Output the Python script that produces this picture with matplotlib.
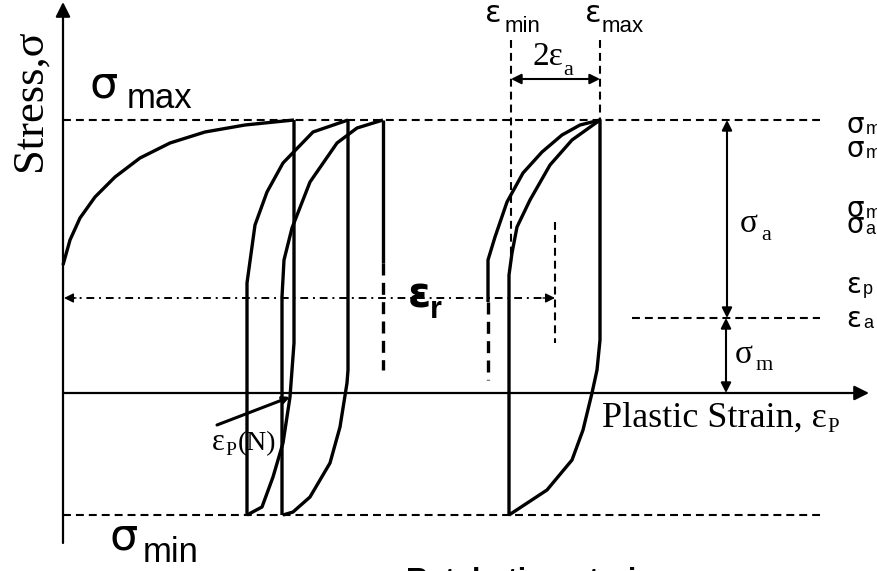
import matplotlib.pyplot as plt
import numpy as np

SANS = 'Liberation Sans'
SERIF = 'Liberation Serif'
GREEK = 'DejaVu Sans'

# stress levels
s_max = 273
s_min = -122
s_mean = 75

# strain positions
e_min = 448
e_max = 537
e_ratchet = 492

# initial loading curve
load_x = [0, 7, 17, 32, 52, 77, 107, 142, 182, 231]
load_y = [128, 153, 175, 196, 216, 235, 250, 261, 268, 273]

# cycle 1: unloading branch then reloading branch
c1_down_x = [231, 231, 227, 220, 210, 199, 184]
c1_down_y = [273, 50, -4, -50, -84, -114, -122]
c1_up_x = [184, 184, 192, 204, 220, 250, 285]
c1_up_y = [-122, 110, 168, 201, 230, 261, 273]

# cycle 2
c2_down_x = [285, 285, 284, 277, 267, 247, 230, 220]
c2_down_y = [273, 23, 10, -34, -70, -104, -119, -122]
c2_up_x = [219, 219, 221, 229, 247, 274, 294, 320]
c2_up_y = [-122, 96, 133, 165, 211, 250, 265, 273]
c2_end_x = [320, 320]
c2_end_y = [273, 130]
c2_gap_x = [320, 320]
c2_gap_y = [130, 23]

# cycle N (stabilised)
cn_in_x = [425, 425, 432, 444, 460, 479, 499, 517, 537]
cn_in_y = [91, 133, 156, 191, 220, 241, 258, 268, 273]
cn_in_gap_x = [425, 425]
cn_in_gap_y = [91, 13]
cn_loop_x = [446, 446, 449, 454, 467, 487, 509, 537, 537, 534, 529, 520, 509, 484, 446]
cn_loop_y = [-122, 118, 140, 166, 193, 228, 253, 273, 53, 23, 0, -37, -67, -97, -122]

fig = plt.figure(figsize=(8.77, 5.71), dpi=100)
ax = fig.add_axes([0, 0, 1, 1])
ax.set_xlim(-63, 814)
ax.set_ylim(-178, 393)
ax.axis('off')
renderer = fig.canvas.get_renderer()
inv = ax.transData.inverted()

curve = dict(color='black', lw=2.4, solid_joinstyle='round', solid_capstyle='butt')
dash = dict(color='black', lw=1.5, ls=(0, (3.8, 2.4)))
thick_dash = dict(color='black', lw=2.4, ls=(0, (3.6, 2.2)))

# axes with arrows
ax.annotate('', xy=(806, 0), xytext=(0, 0),
            arrowprops=dict(arrowstyle='-|>', color='black', lw=1.6, mutation_scale=22, shrinkA=0, shrinkB=0))
ax.annotate('', xy=(0, 391), xytext=(0, -150),
            arrowprops=dict(arrowstyle='-|>', color='black', lw=1.6, mutation_scale=22, shrinkA=0, shrinkB=0))

# reference dashed lines
ax.plot([0, 757], [s_max, s_max], **dash)
ax.plot([0, 757], [s_min, s_min], **dash)
ax.plot([569, 757], [s_mean, s_mean], **dash)
ax.plot([e_min, e_min], [353, 133], **dash)
ax.plot([e_max, e_max], [353, s_max], **dash)
ax.plot([e_ratchet, e_ratchet], [171, 50], **dash)

# hysteresis loops
ax.plot(load_x, load_y, **curve)
ax.plot(c1_down_x, c1_down_y, **curve)
ax.plot(c1_up_x, c1_up_y, **curve)
ax.plot(c2_down_x, c2_down_y, **curve)
ax.plot(c2_up_x, c2_up_y, **curve)
ax.plot(c2_end_x, c2_end_y, **curve)
ax.plot(c2_gap_x, c2_gap_y, **thick_dash)
ax.plot(cn_in_x, cn_in_y, **curve)
ax.plot(cn_in_gap_x, cn_in_gap_y, **thick_dash)
ax.plot(cn_loop_x, cn_loop_y, **curve)

# ratcheting strain arrow (dash-dot)
ax.plot([4, e_ratchet - 8], [95, 95], color='black', lw=1.4, ls=(0, (4, 2.5, 1, 2.5)))
ax.annotate('', xy=(e_ratchet, 95), xytext=(e_ratchet - 12, 95),
            arrowprops=dict(arrowstyle='-|>', color='black', lw=1, mutation_scale=14, shrinkA=0, shrinkB=0))
ax.annotate('', xy=(1, 95), xytext=(13, 95),
            arrowprops=dict(arrowstyle='-|>', color='black', lw=1, mutation_scale=14, shrinkA=0, shrinkB=0))

# amplitude arrows
dbl = dict(arrowstyle='<|-|>', color='black', lw=1.5, mutation_scale=15, shrinkA=0, shrinkB=0)
ax.annotate('', xy=(e_min, 314), xytext=(e_max, 314), arrowprops=dbl)
ax.annotate('', xy=(664, s_max), xytext=(664, s_mean), arrowprops=dbl)
ax.annotate('', xy=(663, s_mean), xytext=(663, 0), arrowprops=dbl)

# eps_p(N) pointer
ax.annotate('', xy=(227, -4), xytext=(154, -32),
            arrowprops=dict(arrowstyle='-|>', color='black', lw=2.2, mutation_scale=10, shrinkA=0, shrinkB=0))


def label(x, y, main, sub, size, subsize, gap, drop, family, subfamily, weight='normal'):
    t = ax.text(x, y, main, fontsize=size, family=family, weight=weight, ha='left', va='baseline')
    bb = t.get_window_extent(renderer)
    x1 = inv.transform((bb.x1 + gap, 0))[0]
    return ax.text(x1, y - drop, sub, fontsize=subsize, family=subfamily, weight=weight,
                   ha='left', va='baseline')


label(27, 296, 'σ', 'max', 32, 25, 8, 11, GREEK, SANS)
label(47, -157, 'σ', 'min', 32, 25, 4, 12, GREEK, SANS)
label(422, 371, 'ε', 'min', 22, 16, 3, 10, GREEK, SANS)
label(522, 371, 'ε', 'max', 22, 16, 0, 10, GREEK, SANS)
label(469, 328, '2ε', 'a', 24, 16, 1, 10, SERIF, SERIF)
label(677, 161, 'σ', 'a', 24, 16, 3, 8, SERIF, SERIF)
label(672, 30, 'σ', 'm', 24, 16, 3, 7, SERIF, SERIF)
label(345, 86, 'ε', 'r', 30, 22, -1, 11, GREEK, SANS, weight='bold')
label(149, -57, 'ε', 'P', 22, 14, 1, 5, SERIF, SERIF)
ax.text(175, -57, '(N)', fontsize=20, family=SERIF, ha='left', va='baseline')

label(539, -34, 'Plastic Strain, ε', 'P', 26, 15, 1, 5, SERIF, SERIF)
ax.text(-33, 293, 'Stress,σ', fontsize=32, family=SERIF, rotation=90, ha='center', va='center')

# summary symbols at the right edge
label(783, 260, 'σ', 'max', 20, 13, 2, 1, GREEK, SANS)
label(783, 236, 'σ', 'min', 20, 13, 2, 1, GREEK, SANS)
label(783, 176, 'σ', 'm', 20, 13, 2, 1, GREEK, SANS)
label(783, 160, 'σ', 'a', 20, 13, 2, 1, GREEK, SANS)
label(783, 100, 'ε', 'p', 20, 13, 2, 1, GREEK, SANS)
label(783, 66, 'ε', 'a', 20, 13, 2, 1, GREEK, SANS)

ax.text(467, -174, 'Ratcheting strain', fontsize=22, family=SANS, weight='bold', ha='center', va='top')

fig.savefig('out.png', dpi=100)
